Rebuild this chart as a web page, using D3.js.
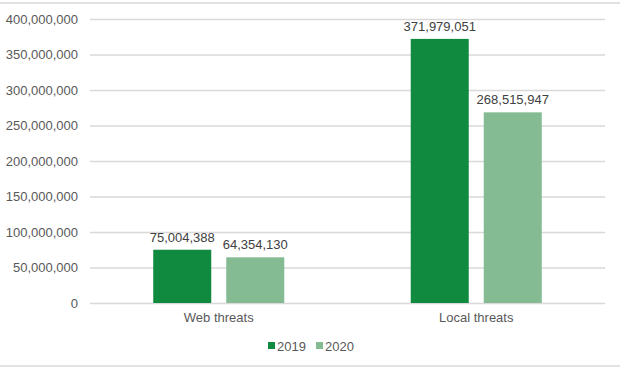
<!DOCTYPE html>
<html><head><meta charset="utf-8">
<script src="https://cdn.jsdelivr.net/npm/d3@7"></script>
<style>body{margin:0;background:#fff}svg{display:block}</style>
</head><body>
<script>
const categories = ["Web threats", "Local threats"];
const seriesNames = ["2019", "2020"];
const values2019 = [75004388, 371979051];
const values2020 = [64354130, 268515947];
const yTicks = [0, 50000000, 100000000, 150000000, 200000000, 250000000, 300000000, 350000000, 400000000];
const colors = ["#108a3f", "#84bb92"];

const W = 620, H = 368;
const svg = d3.select("body").append("svg").attr("width", W).attr("height", H);
[3, 366].forEach(yy => svg.append("line").attr("x1", 0).attr("x2", W).attr("y1", yy).attr("y2", yy)
  .attr("stroke", "#d9d9d9").attr("stroke-width", 1.3));

const mLeft = 90, mRight = 605, mTop = 19, mBottom = 303;
const x0 = d3.scaleBand().domain(categories).range([mLeft, mRight]).paddingInner(0).paddingOuter(0);
const y = d3.scaleLinear().domain([0, 400000000]).range([mBottom, mTop]);
const x1 = d3.scaleBand().domain(seriesNames).range([0, x0.bandwidth()]).paddingInner(0.2055).paddingOuter(0.866);

const fmt = d3.format(",");
const font = "'Liberation Sans', Arial, sans-serif";

const yAxis = d3.axisLeft(y).tickValues(yTicks).tickSize(-(mRight - mLeft)).tickFormat(fmt).tickPadding(12);
const gy = svg.append("g").attr("transform", `translate(${mLeft},0)`).call(yAxis);
gy.select(".domain").remove();
gy.selectAll(".tick line").attr("stroke", "#d9d9d9").attr("stroke-width", 1.3);
gy.selectAll(".tick text").attr("fill", "#595959").style("font-family", font).style("font-size", "13px");

const xAxis = d3.axisBottom(x0).tickSize(0).tickPadding(10);
const gx = svg.append("g").attr("transform", `translate(0,${mBottom})`).call(xAxis);
gx.select(".domain").remove();
gx.selectAll(".tick text").attr("fill", "#595959").style("font-family", font).style("font-size", "13px");

const data = categories.map((c, i) => ({cat: c, vals: [values2019[i], values2020[i]]}));
const groups = svg.append("g").selectAll("g").data(data).join("g")
  .attr("transform", d => `translate(${x0(d.cat)},0)`);
groups.selectAll("rect").data(d => d.vals.map((v, j) => ({s: seriesNames[j], v, j})))
  .join("rect")
  .attr("x", d => x1(d.s)).attr("width", x1.bandwidth())
  .attr("y", d => y(d.v)).attr("height", d => mBottom - y(d.v))
  .attr("fill", d => colors[d.j]);
groups.selectAll("text").data(d => d.vals.map((v, j) => ({s: seriesNames[j], v, j})))
  .join("text")
  .attr("x", d => x1(d.s) + x1.bandwidth() / 2).attr("y", d => y(d.v) - 8)
  .attr("text-anchor", "middle").attr("fill", "#404040")
  .style("font-family", font).style("font-size", "13px")
  .text(d => fmt(d.v));

const legend = svg.append("g").attr("transform", "translate(268,346)");
const lx = [0, 48];
seriesNames.forEach((s, i) => {
  legend.append("rect").attr("x", lx[i]).attr("y", -4).attr("width", 7).attr("height", 7).attr("fill", colors[i]);
  legend.append("text").attr("x", lx[i] + 9).attr("y", 4.5).attr("fill", "#595959")
    .style("font-family", font).style("font-size", "13px").text(s);
});
</script>
</body></html>
